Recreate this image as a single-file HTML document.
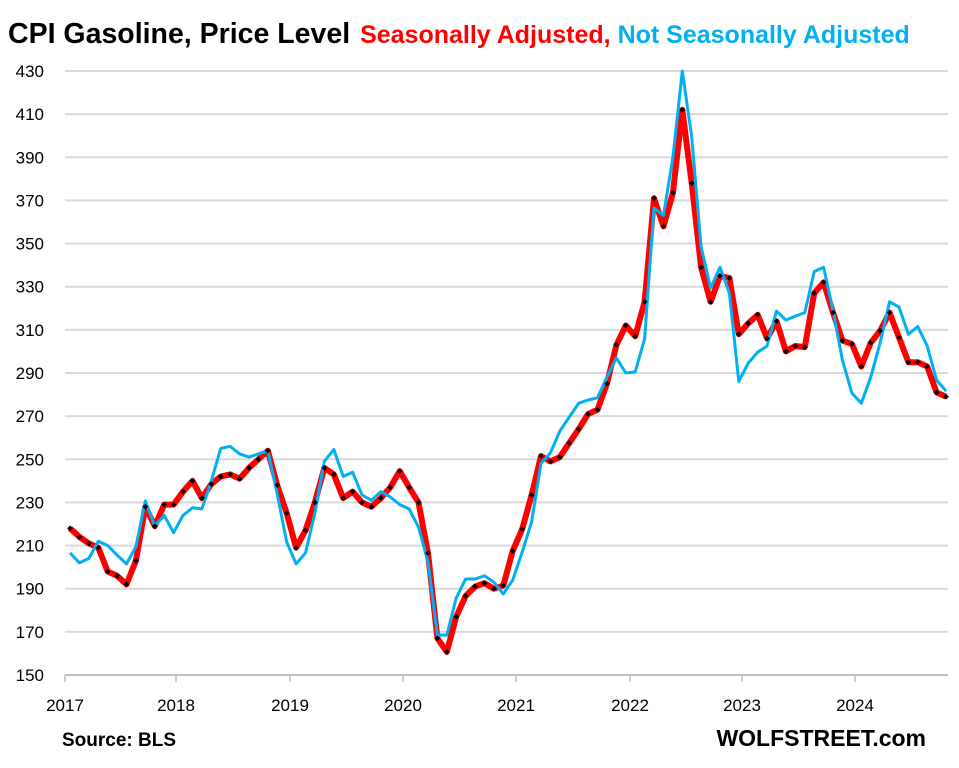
<!DOCTYPE html>
<html><head><meta charset="utf-8"><style>
html,body{margin:0;padding:0;background:#fff;}
body{width:959px;height:768px;overflow:hidden;position:relative;font-family:"Liberation Sans",Arial,sans-serif;}
</style></head><body>
<svg id="c" width="959" height="768" xmlns="http://www.w3.org/2000/svg" style="position:absolute;left:0;top:0">
<text x="8" y="43" font-family="Liberation Sans, sans-serif" font-weight="bold" font-size="28.5" fill="#000">CPI Gasoline, Price Level <tspan fill="#FF0000" font-size="25" dx="2">Seasonally Adjusted, </tspan><tspan fill="#00B0F0" font-size="25">Not Seasonally Adjusted</tspan></text>
<g id="grid"></g>
<g id="series"></g>
<text x="62" y="746" font-family="Liberation Sans, sans-serif" font-weight="bold" font-size="19" fill="#000">Source: BLS</text>
<text x="926" y="746" text-anchor="end" font-family="Liberation Sans, sans-serif" font-weight="bold" font-size="23" fill="#000">WOLFSTREET.com</text>
</svg>
<script>
function Y(v){return 675-(v-150)*604/280;}
function X(i){return 70+i*9.42;}
var g=document.getElementById('grid'),h='';
for(var v=150;v<=430;v+=20){var y=Y(v);
 h+='<line x1="65" x2="948" y1="'+y+'" y2="'+y+'" stroke="'+(v==150?'#bfbfbf':'#d9d9d9')+'" stroke-width="2"/>';
 h+='<text x="44" y="'+(y+6)+'" text-anchor="end" font-size="17" font-family="Liberation Sans, sans-serif" fill="#000">'+v+'</text>';}
var yx=[65,176,290,403,516,630,742,855];
for(var k=0;k<8;k++){h+='<line x1="'+yx[k]+'" x2="'+yx[k]+'" y1="675" y2="682" stroke="#bfbfbf" stroke-width="1.5"/>';
 h+='<text x="'+yx[k]+'" y="711" text-anchor="middle" font-size="17" font-family="Liberation Sans, sans-serif" fill="#000">'+(2017+k)+'</text>';}
g.innerHTML=h;
var red=[218,214,211,209,198,196,192,203,228,219,229,229,
235,240,232,238.5,242,243,241,246,250,254,238,225,
209,217,230,246,243,232,235,230,228,232,237,244.5,
237,230,206.5,167,160.7,177,186.6,191,192.6,190,191.5,207.5,
217.7,233.4,251.5,249,251,257.6,264,271,273,285,303,312,
307,323,371,358,373.5,412,378,339,323,335,334,308,
313,317,306,314,300,302.5,302,327,332,318,305,303.5,
293,304,309.5,318,306.5,295,295,293,281,279];
var blue=[206.6,202,204,212,210,205.6,201.5,209.5,230.7,219,224,216,
224,227.5,227,240,255,256,252.5,251,252.5,254,234,211.6,
201.5,206.6,225,249,254.6,242,244,233.5,231,235,232.5,229,
227,218.6,202.4,168.5,168.5,185.7,194.5,194.5,196,193,187.5,194,
207,221,248,253,263,269.6,276,277.5,278.5,288,297,290,
290.5,305.8,366.5,363,390,430,399.5,348.5,329.4,339,327,286,
294.6,299.7,302.5,318.7,314.5,316.4,318,337,339,319,296,280.7,
276,288,303.9,323,320.6,308,311.5,302.5,286.7,281.6];
function pts(a){return a.map(function(v,i){return X(i).toFixed(1)+','+Y(v).toFixed(1);}).join(' ');}
var s='';
s+='<polyline points="'+pts(red)+'" fill="none" stroke="#FF0000" stroke-width="6" stroke-linejoin="round"/>';
s+='<polyline points="'+pts(blue)+'" fill="none" stroke="#00B0F0" stroke-width="3" stroke-linejoin="round"/>';
red.forEach(function(v,i){var x=X(i),y=Y(v);s+='<rect x="'+(x-2)+'" y="'+(y-2)+'" width="4" height="4" fill="#000" transform="rotate(45 '+x+' '+y+')"/>';});
document.getElementById('series').innerHTML=s;
</script>
</body></html>
